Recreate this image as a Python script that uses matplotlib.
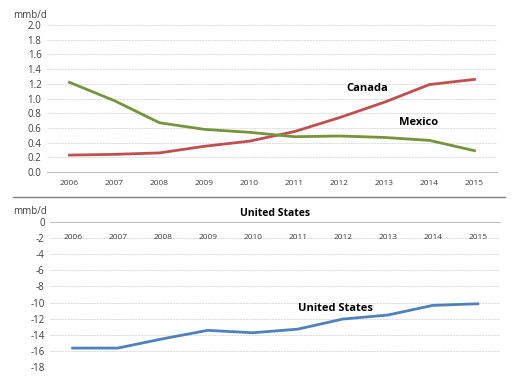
import numpy as np
import matplotlib.pyplot as plt
from matplotlib.lines import Line2D

plt.rcParams['font.family'] = ['Open Sans', 'DejaVu Sans']

years = ['2006', '2007', '2008', '2009', '2010', '2011', '2012', '2013', '2014', '2015']
canada = [0.23, 0.24, 0.26, 0.35, 0.42, 0.55, 0.74, 0.95, 1.19, 1.26]
mexico = [1.22, 0.97, 0.67, 0.58, 0.54, 0.48, 0.49, 0.47, 0.43, 0.29]
united_states = [-15.65, -15.65, -14.5, -13.45, -13.75, -13.3, -12.05, -11.55, -10.35, -10.15]

top_ticks = np.arange(0, 2.01, 0.2)
bottom_ticks = np.arange(0, -18.01, -2)

RED = '#C0504D'
GREEN = '#77933C'
BLUE = '#4F81BD'
GRID = '#D9D9D9'
AXIS = '#BFBFBF'
TXT = '#404040'

fig = plt.figure(figsize=(5.18, 3.86), dpi=100)
x = np.arange(len(years))

# top panel: Canada / Mexico
ax1 = fig.add_axes([0.0907, 0.5544, 0.8687, 0.3808])
ax1.plot(x, canada, color=RED, lw=2, zorder=3)
ax1.plot(x, mexico, color=GREEN, lw=2, zorder=3)
ax1.set_xlim(-0.5, len(years) - 0.5)
ax1.set_ylim(0, 2.0)
ax1.set_yticks(top_ticks)
ax1.set_yticklabels([f'{v:.1f}' for v in top_ticks], fontsize=7, color=TXT)
ax1.set_xticks(x)
ax1.set_xticklabels(years, fontsize=6, color=TXT)
ax1.tick_params(length=0, pad=6)
ax1.tick_params(axis='y', pad=4)
for t in top_ticks[1:]:
    ax1.axhline(t, color=GRID, lw=0.7, ls=(0, (2, 1)), zorder=0)
for s in ['top', 'right', 'left']:
    ax1.spines[s].set_visible(False)
ax1.spines['bottom'].set_color(AXIS)
ax1.text(6.62, 1.13, 'Canada', fontsize=8, fontweight='bold', ha='center', va='center')
ax1.text(7.76, 0.67, 'Mexico', fontsize=8, fontweight='bold', ha='center', va='center')
fig.text(13 / 518, 1 - 16 / 386, 'mmb/d', fontsize=7, color=TXT, va='center')

# separator line
fig.add_artist(Line2D([13 / 518, 505 / 518], [1 - 197 / 386, 1 - 197 / 386],
                      color='#7F7F7F', lw=1))

# bottom panel: United States
ax2 = fig.add_axes([0.0969, 0.0492, 0.869, 0.3757])
ax2.plot(x, united_states, color=BLUE, lw=2, zorder=3)
ax2.set_xlim(-0.5, len(years) - 0.5)
ax2.set_ylim(-18, 0)
ax2.set_yticks(bottom_ticks)
ax2.set_yticklabels([f'{int(v)}' for v in bottom_ticks], fontsize=7, color=TXT)
ax2.xaxis.tick_top()
ax2.set_xticks(x)
ax2.set_xticklabels(years, fontsize=6, color=TXT)
ax2.tick_params(axis='x', length=0, pad=-14)
ax2.tick_params(axis='y', length=0, pad=4)
for t in bottom_ticks[1:]:
    ax2.axhline(t, color=GRID, lw=0.7, ls=(0, (2, 1)), zorder=0)
for s in ['bottom', 'right', 'left']:
    ax2.spines[s].set_visible(False)
ax2.spines['top'].set_color(AXIS)
ax2.set_title('United States', fontsize=7.5, fontweight='bold', pad=4)
ax2.text(5.83, -10.7, 'United States', fontsize=8, fontweight='bold', ha='center', va='center')
fig.text(13 / 518, 1 - 212 / 386, 'mmb/d', fontsize=7, color=TXT, va='center')

fig.savefig('out.png', dpi=100)
